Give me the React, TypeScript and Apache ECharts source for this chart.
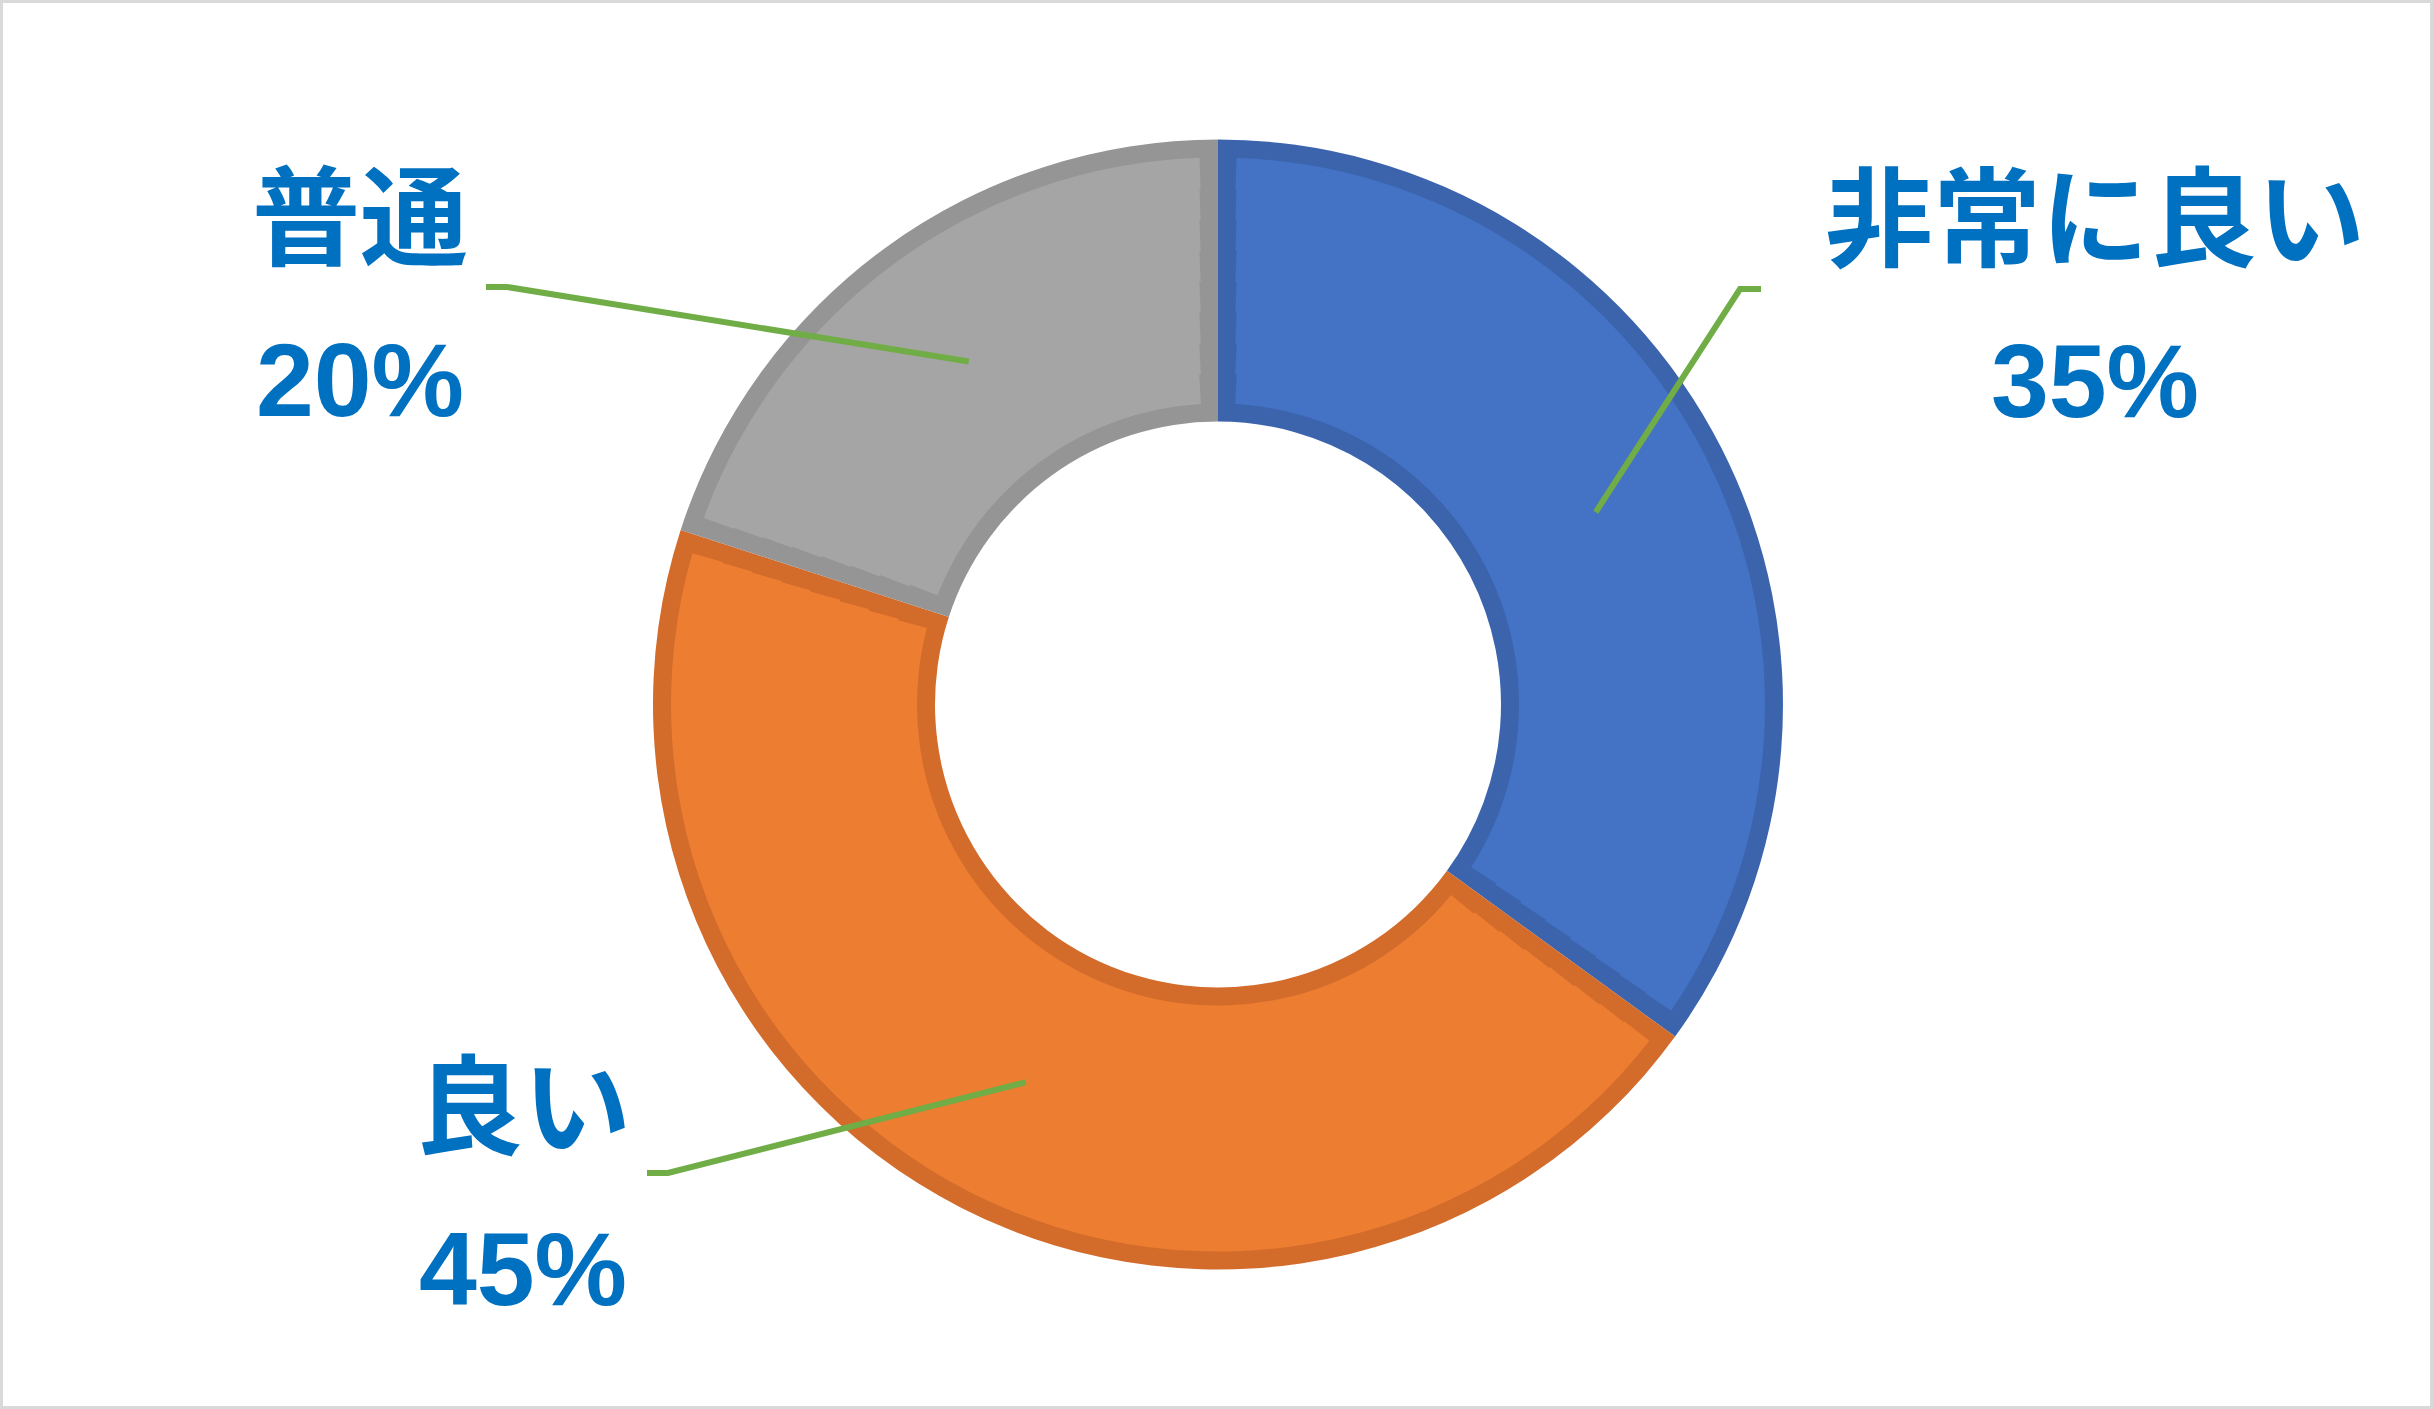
import { useEffect, useRef } from "react";
import * as echarts from "echarts";

// 満足度の内訳
const NAMES = ["非常に良い", "良い", "普通"];
const VALUES = [35, 45, 20];
const FILL = ["#4472C4", "#ED7D31", "#A5A5A5"];
const EDGE = ["#3B64AD", "#D36C2B", "#959595"];

// label placement (label centre) and leader end offset from it
const LABEL_AT = [
  [2095, 296],
  [523, 1184],
  [360, 295]
];
const LINE_END = [
  [-334, -7],
  [124, -11],
  [126, -8]
];

const W = 2433;
const H = 1409;
const CENTER = [1218, 704.5];
const RING = [283, 565];
const EDGE_W = 18;
const BANDS = 8;

export default function App() {
  const chartRef = useRef<HTMLDivElement>(null);

  useEffect(() => {
    document.body.style.margin = "0";
    if (!chartRef.current) return;
    const chart = echarts.init(chartRef.current, null, { renderer: "svg" });

    const midR = (RING[0] + RING[1]) / 2;

    const common = {
      type: "pie",
      center: CENTER,
      startAngle: 90,
      clockwise: true,
      silent: true,
      emphasis: { disabled: true },
      label: { show: false },
      labelLine: { show: false }
    };

    // fill is drawn in thin rings so the dark edge band between slices keeps a constant width
    const r0 = RING[0] + EDGE_W;
    const r1 = RING[1] - EDGE_W;
    const step = (r1 - r0) / BANDS;
    const fillRings = Array.from({ length: BANDS }, (_, k) => {
      const a = r0 + k * step;
      const b = a + step;
      const pad = ((2 * EDGE_W) / ((a + b) / 2)) * (180 / Math.PI);
      return {
        ...common,
        z: 3,
        radius: [k === 0 ? a : a - 1, b],
        padAngle: pad,
        data: NAMES.map((name, i) => ({ name, value: VALUES[i], itemStyle: { color: FILL[i] } }))
      };
    });

    const option = {
      animation: false,
      backgroundColor: "#FFFFFF",
      graphic: [
        {
          type: "rect",
          shape: { x: 1.5, y: 1.5, width: W - 3, height: H - 3 },
          style: { fill: "none", stroke: "#D9D9D9", lineWidth: 3 },
          silent: true
        }
      ],
      series: [
        {
          ...common,
          z: 2,
          radius: RING,
          data: NAMES.map((name, i) => ({ name, value: VALUES[i], itemStyle: { color: EDGE[i] } }))
        },
        ...fillRings,
        {
          // invisible pie whose rim is the ring's middle, so leaders start there
          ...common,
          z: 5,
          radius: [0, midR],
          avoidLabelOverlap: false,
          itemStyle: { color: "rgba(0,0,0,0)", borderWidth: 0 },
          label: {
            show: true,
            position: "outside",
            formatter: (p: any) => `{n|${p.name}}\n{p|${Math.round(p.percent)}%}`,
            rich: {
              n: {
                fontFamily: '"Noto Sans CJK JP", sans-serif',
                fontWeight: "bold",
                fontSize: 108,
                lineHeight: 170,
                color: "#0070C0",
                align: "center"
              },
              p: {
                fontFamily: '"Liberation Sans Narrow", "Liberation Sans", sans-serif',
                fontWeight: "bold",
                fontSize: 104,
                lineHeight: 170,
                color: "#0070C0",
                align: "center"
              }
            }
          },
          labelLine: {
            show: true,
            length: 40,
            length2: 20,
            smooth: false,
            lineStyle: { color: "#70AD47", width: 6 }
          },
          labelLayout: (p: any) => {
            const i = p.dataIndex;
            const [x, y] = LABEL_AT[i];
            const ex = x + LINE_END[i][0];
            const ey = y + LINE_END[i][1];
            const dir = LINE_END[i][0] < 0 ? -1 : 1;
            const start = p.labelLinePoints ? p.labelLinePoints[0] : [ex, ey];
            return {
              x,
              y,
              align: "center",
              verticalAlign: "middle",
              labelLinePoints: [start, [ex + dir * 21, ey], [ex, ey]]
            };
          },
          data: NAMES.map((name, i) => ({ name, value: VALUES[i] }))
        }
      ]
    };

    chart.setOption(option);

    return () => {
      chart.dispose();
    };
  }, []);

  return <div ref={chartRef} style={{ width: W + "px", height: H + "px" }} />;
}
